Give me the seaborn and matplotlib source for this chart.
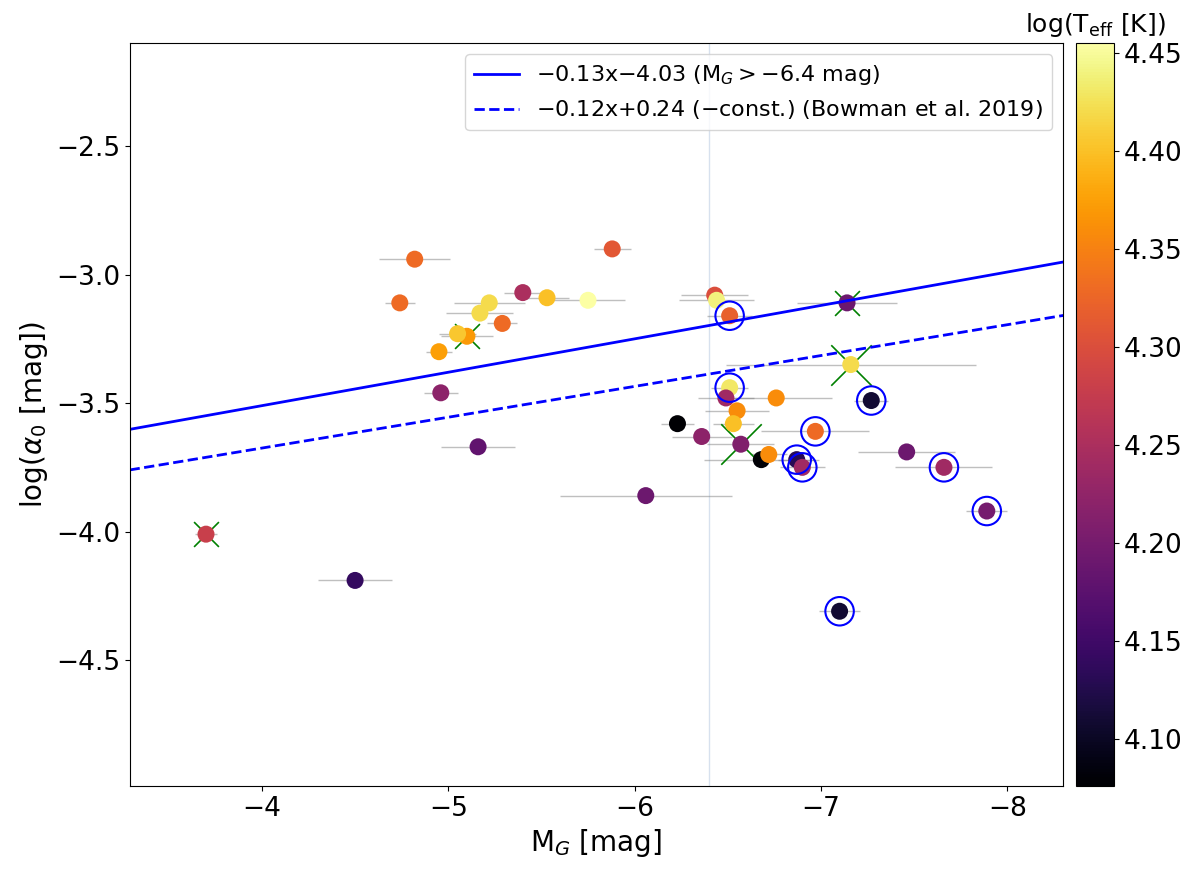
import matplotlib
matplotlib.use("Agg")
import matplotlib.pyplot as plt
import numpy as np
import pandas as pd
import seaborn as sns

# absolute magnitude, log amplitude, x error, log Teff
mag = [-4.82, -4.74, -5.88, -5.40, -5.53, -5.75, -5.22, -5.17, -5.29, -5.10,
       -5.05, -4.95, -4.96, -6.43, -6.44, -6.51, -7.14, -7.16, -6.51, -6.49,
       -6.76, -7.27, -6.55, -6.23, -6.53, -6.36, -6.97, -6.57, -6.68, -6.72,
       -6.87, -6.90, -7.46, -7.66, -6.06, -7.89, -7.10, -3.70, -4.50, -5.16]
log_amp = [-2.94, -3.11, -2.90, -3.07, -3.09, -3.10, -3.11, -3.15, -3.19, -3.24,
           -3.23, -3.30, -3.46, -3.08, -3.10, -3.16, -3.11, -3.35, -3.44, -3.48,
           -3.48, -3.49, -3.53, -3.58, -3.58, -3.63, -3.61, -3.66, -3.72, -3.70,
           -3.72, -3.75, -3.69, -3.75, -3.86, -3.92, -4.31, -4.01, -4.19, -3.67]
mag_err = [0.19, 0.08, 0.10, 0.10, 0.12, 0.20, 0.19, 0.18, 0.08, 0.14,
           0.10, 0.07, 0.09, 0.18, 0.20, 0.12, 0.27, 0.67, 0.10, 0.15,
           0.30, 0.09, 0.17, 0.09, 0.11, 0.16, 0.29, 0.18, 0.31, 0.10,
           0.10, 0.12, 0.26, 0.26, 0.46, 0.11, 0.11, 0.06, 0.20, 0.20]
log_teff = [4.33, 4.33, 4.31, 4.25, 4.40, 4.455, 4.42, 4.42, 4.33, 4.37,
            4.405, 4.375, 4.22, 4.30, 4.44, 4.32, 4.19, 4.42, 4.43, 4.24,
            4.36, 4.11, 4.36, 4.076, 4.40, 4.22, 4.33, 4.21, 4.08, 4.36,
            4.13, 4.24, 4.19, 4.24, 4.19, 4.20, 4.11, 4.28, 4.14, 4.18]
# flags: circled stars and crossed stars
circled = [16, 19, 22, 27, 31, 32, 34, 36, 37]
crossed_small = [10, 17, 38]
crossed_big = [18, 28]

df = pd.DataFrame({"mag": mag, "amp": log_amp, "err": mag_err, "teff": log_teff})
df["idx"] = np.arange(1, len(df) + 1)

vmin, vmax = min(log_teff), max(log_teff)
norm = plt.Normalize(vmin, vmax)

fig = plt.figure(figsize=(12, 8.75), dpi=100)
ax = fig.add_axes([0.108, 0.1017, 0.778, 0.8488])
cax = fig.add_axes([0.897, 0.1017, 0.031, 0.8488])

ax.axvline(-6.4, color="lightsteelblue", lw=1, alpha=0.5, zorder=0)
ax.errorbar(df["mag"], df["amp"], xerr=df["err"], fmt="none",
            ecolor="gray", elinewidth=1, alpha=0.5, zorder=1)

# crosses sit behind the coloured dots
xs = df[df["idx"].isin(crossed_small)]
ax.scatter(xs["mag"], xs["amp"], s=320, marker="x", color="green",
           linewidths=1.2, zorder=1.5)
xb = df[df["idx"].isin(crossed_big)]
ax.scatter(xb["mag"], xb["amp"], s=850, marker="x", color="green",
           linewidths=1.2, zorder=1.5)

sns.scatterplot(data=df, x="mag", y="amp", hue="teff", palette="inferno",
                hue_norm=norm, s=150, linewidth=0, legend=False, ax=ax, zorder=2)

c = df[df["idx"].isin(circled)]
ax.scatter(c["mag"], c["amp"], s=420, facecolors="none", edgecolors="blue",
           linewidths=1.5, zorder=3)

xlim = (-3.29, -8.30)
xx = np.array(xlim)
ax.plot(xx, -0.13 * xx - 4.03, color="blue", lw=2,
        label=r"$-$0.13x$-$4.03 (M$_G$$>-$6.4 mag)")
ax.plot(xx, -0.12 * xx + 0.24 - 4.395, color="blue", lw=2, ls="--",
        label=r"$-$0.12x+0.24 ($-$const.) (Bowman et al. 2019)")

ax.set_xlim(xlim)
ax.set_ylim(-4.99, -2.10)
ax.set_xticks([-4, -5, -6, -7, -8])
ax.set_yticks([-2.5, -3.0, -3.5, -4.0, -4.5])
ax.tick_params(labelsize=19)
ax.set_xlabel(r"M$_G$ [mag]", fontsize=20)
ax.set_ylabel(r"log($\alpha_0$ [mag])", fontsize=20)
ax.legend(loc="upper right", fontsize=16)

sm = plt.cm.ScalarMappable(cmap="inferno", norm=norm)
cbar = fig.colorbar(sm, cax=cax)
cbar.set_ticks([4.10, 4.15, 4.20, 4.25, 4.30, 4.35, 4.40, 4.45])
cbar.ax.set_yticklabels(["4.10", "4.15", "4.20", "4.25", "4.30", "4.35", "4.40", "4.45"])
cbar.ax.tick_params(labelsize=19)
cbar.ax.set_title(r"log(T$_{\rm eff}$ [K])", fontsize=18, pad=8)

fig.savefig("out.png", dpi=100)
